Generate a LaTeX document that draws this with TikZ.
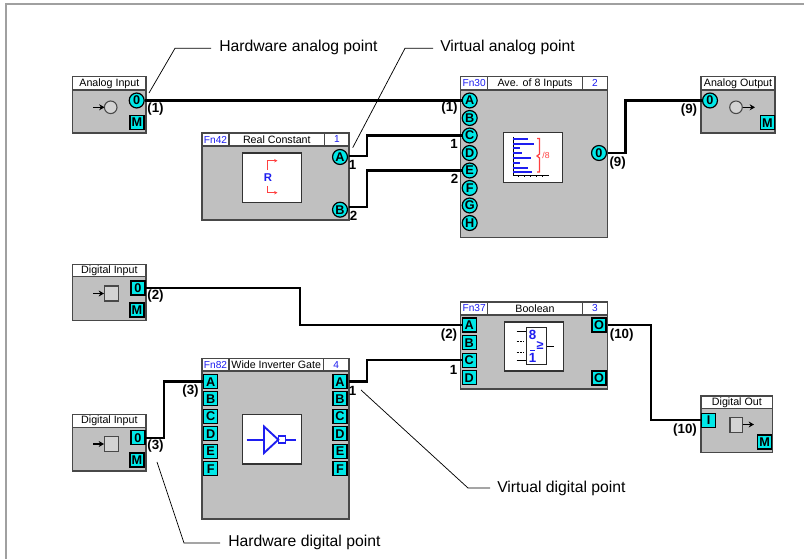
\documentclass[tikz,border=0pt]{standalone}
\usepackage{fontspec}
\usetikzlibrary{arrows.meta}
\setmainfont{Liberation Sans}
\definecolor{blockgray}{RGB}{192,192,192}
\definecolor{edgegray}{RGB}{72,72,72}
\definecolor{framegray}{RGB}{160,160,160}
\definecolor{portcyan}{RGB}{0,232,232}
\definecolor{fnblue}{RGB}{30,30,240}
\definecolor{iconred}{RGB}{255,64,64}
\tikzset{
  x=0.75pt,y=-0.75pt,
  blockbody/.style={draw=edgegray,line width=0.9pt,fill=blockgray},
  headcell/.style={draw=edgegray,line width=0.8pt,fill=white},
  iconbox/.style={draw=black!80,line width=0.8pt,fill=white},
  roundport/.style={circle,draw=black,line width=0.9pt,fill=portcyan,minimum size=11.2pt,inner sep=0pt,font=\fontsize{9.5}{9.5}\selectfont\bfseries},
  squareport/.style={rectangle,draw=black,line width=0.8pt,fill=portcyan,minimum size=10.5pt,inner sep=0pt,font=\fontsize{9.5}{9.5}\selectfont\bfseries},
  wire/.style={draw=black,line width=1.8pt,line join=miter},
  callout/.style={draw=black,line width=0.55pt},
  calltext/.style={anchor=west,inner sep=0pt,font=\fontsize{11.8}{12}\selectfont},
  wirelabel/.style={inner sep=0pt,font=\fontsize{10}{10}\selectfont\bfseries},
  headtext/.style={inner sep=0pt,font=\fontsize{8}{8}\selectfont},
  fntext/.style={inner sep=0pt,text=fnblue,font=\fontsize{7.6}{8}\selectfont},
  symline/.style={draw=black,line width=1.1pt},
  symshape/.style={draw=edgegray,line width=0.8pt,fill=blockgray!70!white},
  bluel/.style={draw=fnblue,line width=1.4pt},
  bluebar/.style={draw=fnblue,line width=1.5pt},
  redl/.style={draw=iconred,line width=0.9pt},
  thinl/.style={draw=black,line width=0.6pt},
}
% simple I/O block: x1 y1 x2 y2 yh title name
\newcommand{\ioblock}[7]{%
  \path[blockbody] (#1,#2) rectangle (#3,#4);
  \path[headcell] (#1,#2) rectangle (#3,#5);
  \node[headtext] (#7t) at ({(#1+#3)/2},{(#2+#5)/2}) {#6};
}
% function block: x1 y1 x2 y2 yh d1 d2 fn num
\newcommand{\fnblock}[9]{%
  \path[blockbody] (#1,#2) rectangle (#3,#4);
  \path[headcell] (#1,#2) rectangle (#3,#5);
  \path[headcell] (#6,#2) -- (#6,#5) (#7,#2) -- (#7,#5);
  \node[fntext] at ({(#1+#6)/2},{(#2+#5)/2}) {#8};
  \node[fntext] at ({(#7+#3)/2},{(#2+#5)/2}) {#9};
}
\begin{document}
\begin{tikzpicture}
\useasboundingbox (0,0) rectangle (804,559);
% frame
\fill[framegray] (5,3) rectangle (804,5.2);
\fill[framegray] (5,3) rectangle (7.4,559);

% Analog Input
\ioblock{72.7}{76.7}{146}{133}{90}{Analog Input}{ai}
\node[roundport] (ai0) at (136.7,100.5) {0};
\node[squareport] (aim) at (137,122.5) {M};
\path[symshape] (110.7,107.3) circle (6.3);
\draw[symline,-{Stealth[length=4pt,width=4.5pt]}] (93,107.3) -- (104.5,107.3);

% Real Constant
\fnblock{202}{133}{349}{220}{146}{229}{324.7}{Fn42}{1}
\node[headtext] at (276.8,139.5) {Real Constant};
\path[iconbox] (242.3,153) rectangle (301.7,202.3);
\node[inner sep=0pt,text=fnblue,font=\fontsize{8.5}{9}\selectfont\bfseries] at (268,178) {R};
\draw[redl,-{Stealth[length=2.5pt,width=2.5pt]}] (267.7,170) -- (267.7,160.7) -- (277.5,160.7);
\draw[redl,-{Stealth[length=2.5pt,width=2.5pt]}] (267.7,186) -- (267.7,192.7) -- (277.5,192.7);
\node[roundport] (rca) at (340,157) {A};
\node[roundport] (rcb) at (340,209.7) {B};
\coordinate (rcae) at (349,156);
\coordinate (rcbe) at (349,207);

% Ave of 8
\fnblock{460.7}{76.7}{607.7}{237.7}{90}{487.7}{582.3}{Fn30}{2}
\node[headtext] at (535,83.4) {Ave. of 8 Inputs};
\path[iconbox] (503.3,132.7) rectangle (562.7,182.7);
\draw[thinl] (513,137) -- (513,175.3) -- (549,175.3);
\foreach \xx in {518,524,530,536,542}{\draw[thinl] (\xx,175.3) -- (\xx,176.8);}
\foreach \yy/\xx in {139/528,144/534,148.5/520,153.3/522,158.3/531,163.3/520,167.7/528,172.3/532}{
  \draw[bluebar] (513,\yy) -- (\xx,\yy);
}
\draw[redl] (537,138.5) -- (539.5,138.5) -- (539.5,154) -- (537,156) -- (539.5,158) -- (539.5,172) -- (537,172);
\node[inner sep=0pt,text=iconred,font=\fontsize{6.5}{7}\selectfont] at (546,155.7) {/8};
\foreach \l/\yy in {A/100.5,B/118,C/135.5,D/153,E/170.5,F/188,G/205.5,H/223}{
  \node[roundport] (av\l) at (469.7,\yy) {\l};
}
\node[roundport] (avo) at (599,153) {0};
\coordinate (avoe) at (607.7,153.3);

% Analog Output
\ioblock{701}{76.7}{775}{133}{90}{Analog Output}{ao}
\node[roundport] (ao0) at (710,100.5) {0};
\node[squareport] (aom) at (767.3,122.7) {M};
\path[symshape] (736,107.3) circle (6.3);
\draw[symline,-{Stealth[length=4pt,width=4.5pt]}] (742.5,107.3) -- (755,107.3);

% Digital Input 1
\ioblock{72.7}{264.3}{146}{320.7}{276.7}{Digital Input}{dia}
\node[squareport] (dia0) at (138,288) {0};
\node[squareport] (diam) at (137,310) {M};
\path[symshape] (104.3,286) rectangle (118.3,301);
\draw[symline,-{Stealth[length=4pt,width=4.5pt]}] (93,293.5) -- (104,293.5);

% Digital Input 2
\ioblock{72.7}{414.7}{146}{471}{427.7}{Digital Input}{dib}
\node[squareport] (dib0) at (138,437.8) {0};
\node[squareport] (dibm) at (137,460) {M};
\path[symshape] (104.3,436.7) rectangle (118.3,451.3);
\draw[symline,-{Stealth[length=4pt,width=4.5pt]}] (93,444) -- (104,444);

% Wide Inverter Gate
\fnblock{202}{358.3}{349}{519}{371}{229}{323.3}{Fn82}{4}
\node[headtext] at (276.2,364.7) {Wide Inverter Gate};
\path[iconbox] (242.3,414.7) rectangle (301.7,464);
\draw[bluel] (246.7,439.7) -- (263.5,439.7);
\draw[bluel] (264,426.5) -- (264,453) -- (278.3,439.7) -- cycle;
\path[draw=fnblue,line width=1.4pt] (278.5,436) rectangle (285.5,443.3);
\draw[bluel] (285.5,439.7) -- (296,439.7);
\foreach \l/\yy in {A/381.7,B/398.8,C/416.3,D/433.8,E/451.3,F/468.8}{
  \node[squareport] (wl\l) at (210.7,\yy) {\l};
  \node[squareport] (wr\l) at (340,\yy) {\l};
}
\coordinate (wre) at (349,381.7);

% Boolean
\fnblock{460.7}{302}{607.7}{389}{315}{487.7}{582.3}{Fn37}{3}
\node[headtext] at (535,308.5) {Boolean};
\path[iconbox] (504.3,322) rectangle (563.7,371);
\draw[thinl] (516.7,331) -- (527,331) (516.7,360.7) -- (527,360.7) (546.7,346.7) -- (554,346.7);
\draw[thinl,dash pattern=on 1.5pt off 1pt] (516.7,341.7) -- (524,341.7) (516.7,352.3) -- (524,352.3);
\path[draw=black!85,line width=0.7pt] (526.7,327.7) rectangle (546.7,364.3);
\node[inner sep=0pt,text=fnblue,font=\fontsize{10}{10}\selectfont\bfseries] at (532.5,334.5) {8};
\node[inner sep=0pt,text=fnblue,font=\fontsize{9.5}{10}\selectfont\bfseries] at (540,345.5) {≥};
\node[inner sep=0pt,text=fnblue,font=\fontsize{10}{10}\selectfont\bfseries] at (532.5,358) {1};
\draw[draw=fnblue,line width=0.7pt] (530,350.5) -- (535,350.5);
\foreach \l/\yy in {A/325,B/342.7,C/360.3,D/377.7}{
  \node[squareport] (bl\l) at (469.3,\yy) {\l};
}
\node[squareport] (bo) at (599,325) {O};
\node[squareport] (bq) at (599,378) {O};
\draw[draw=black,line width=1pt] (bq.north west) -- (bq.north east);
\coordinate (boe) at (607.7,325);

% Digital Out
\ioblock{701}{396}{772.7}{452.3}{408.7}{Digital Out}{dout}
\node[squareport] (di) at (708.7,420.3) {I};
\node[squareport] (dom) at (764.7,442) {M};
\path[symshape] (730,417.7) rectangle (742.7,432.3);
\draw[symline,-{Stealth[length=4pt,width=4.5pt]}] (742.7,424.5) -- (754,424.5);

% Wires
\draw[wire] (ai0.east) -- (avA.west);
\draw[wire] (rcae) -- (366.7,156) -- (366.7,135.5) -- (avC.west);
\draw[wire] (rcbe) -- (366.7,207) -- (366.7,170.5) -- (avE.west);
\draw[wire] (avoe) -- (625.3,153.3) -- (625.3,100.5) -- (ao0.west);
\draw[wire] (dia0.east) -- (300,288) -- (300,325) -- (blA.west);
\draw[wire] (dib0.east) -- (164,437.8) -- (164,381.7) -- (wlA.west);
\draw[wire] (wre) -- (366.7,381.7) -- (366.7,360.3) -- (blC.west);
\draw[wire] (boe) -- (651,325) -- (651,420.3) -- (di.west);

% Wire labels
\node[wirelabel] at (155.5,109) {(1)};
\node[wirelabel] at (449.5,108.5) {(1)};
\node[wirelabel] at (352.5,165) {1};
\node[wirelabel] at (353.5,216) {2};
\node[wirelabel] at (454,143.5) {1};
\node[wirelabel] at (454.7,179) {2};
\node[wirelabel] at (617.7,162.7) {(9)};
\node[wirelabel] at (689,110) {(9)};
\node[wirelabel] at (155.5,296.5) {(2)};
\node[wirelabel] at (449,335) {(2)};
\node[wirelabel] at (155.5,446.5) {(3)};
\node[wirelabel] at (190.5,391) {(3)};
\node[wirelabel] at (352.5,391) {1};
\node[wirelabel] at (453.5,369.5) {1};
\node[wirelabel] at (621.7,335) {(10)};
\node[wirelabel] at (685,430) {(10)};

% Callouts
\node[calltext] (ha) at (219,47.5) {Hardware analog point};
\node[calltext] (va) at (440,47.5) {Virtual analog point};
\node[calltext] (vd) at (497,488) {Virtual digital point};
\node[calltext] (hd) at (228,542.5) {Hardware digital point};
\coordinate (has) at (149,93);
\coordinate (vas) at (352.7,147.7);
\coordinate (vds) at (361,390);
\coordinate (hds) at (157,462);
\draw[callout] (has) -- (175,48.3) -- (211,48.3);
\draw[callout] (vas) -- (405,48.3) -- (433,48.3);
\draw[callout] (vds) -- (468,488) -- (490,488);
\draw[callout] (hds) -- (184,543) -- (220,543);
\end{tikzpicture}
\end{document}
